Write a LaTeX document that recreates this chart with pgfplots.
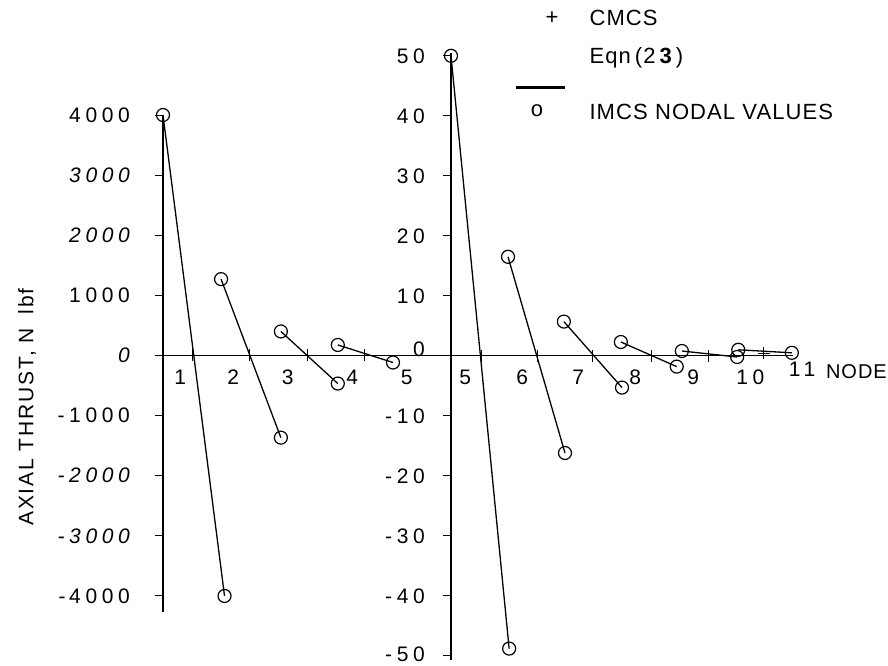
\documentclass[border=0pt]{standalone}
\usepackage{pgfplots}
\pgfplotsset{compat=1.18}
\usepackage{fontspec}
\setmainfont{Liberation Sans}[LetterSpace=5]
\newfontfamily\tickfam{Liberation Sans}[LetterSpace=22]
\newfontfamily\labfam{Liberation Sans}[LetterSpace=9]
\newcommand{\bigf}{\fontsize{22}{26}\selectfont}
\newcommand{\tickf}{\tickfam\fontsize{21}{25}\selectfont}
\pgfplotsset{
  mystyle/.style={
    scale only axis,
    axis y line=left, axis x line=middle,
    every inner x axis line/.append style={-},
    every outer y axis line/.append style={-},
    axis line style={line width=1.1pt, black},
    tick align=outside,
    hide obscured x ticks=false, hide obscured y ticks=false,
    major tick length=8pt,
    ytick style={line width=1pt, black},
    xtick style={draw=none},
    clip=false,
    every tick label/.append style={font=\tickf},
    xticklabel style={yshift=-3pt},
    yticklabel style={inner sep=2pt},
  },
  elem/.style={black, line width=1.3pt, mark=o, mark size=6.5pt,
    mark options={fill=white, line width=1.2pt}},
  cmcs/.style={only marks, mark=+, mark size=6pt, mark options={black, line width=1pt}},
}
\begin{document}
\begin{tikzpicture}[x=1pt,y=1pt]
\useasboundingbox (0,0) rectangle (888,665);

% ---------------- left axis (N) ----------------
\begin{axis}[mystyle,
  at={(163pt,53pt)}, anchor=south west,
  width=287.5pt, height=497pt,
  xmin=1, xmax=6, ymin=-4267, ymax=4000,
  yticklabel style={xshift=-23pt},
  ytick={-4000,-3000,-2000,-1000,0,1000,2000,3000,4000},
  yticklabels={{-\,4000},{\itshape -3000},{\itshape -2000},{-1000},{\itshape 0},{1000},{\itshape 2000},{\itshape 3000},{4000}},
  xtick={1.30,2.22,3.17,4.29,5.24},
  xticklabels={1,2,3,4,5},
]
\draw[line width=1.1pt] (axis cs:0.86,0) -- (axis cs:1,0);
\addplot[elem] coordinates {(1.00,4000) (2.07,-4000)};
\addplot[elem] coordinates {(2.01,1270) (3.05,-1367)};
\addplot[elem] coordinates {(3.05,400) (4.04,-467)};
\addplot[elem] coordinates {(4.04,175) (5.00,-117)};
\addplot[cmcs] coordinates {(1.52,0) (2.50,0) (3.52,0) (4.51,0)};
\end{axis}

% ---------------- right axis (lbf) ----------------
\begin{axis}[mystyle,
  at={(451pt,5pt)}, anchor=south west,
  width=342pt, height=607.2pt,
  xmin=5, xmax=11, ymin=-50.7, ymax=50.5,
  yticklabel style={xshift=-16pt},
  ytick={-50,-40,-30,-20,-10,0,10,20,30,40,50},
  yticklabels={{\raisebox{4pt}{-50}},-40,-30,-20,-10,{\raisebox{14pt}{0}},10,20,30,40,50},
  xtick={5.25,6.25,7.23,8.23,9.25,10.25},
  xticklabels={5,6,7,8,9,10},
]
\addplot[elem] coordinates {(5.00,50) (6.02,-48.8)};
\addplot[elem] coordinates {(6.00,16.5) (7.00,-16.2)};
\addplot[elem] coordinates {(6.98,5.7) (8.00,-5.3)};
\addplot[elem] coordinates {(7.98,2.3) (8.96,-1.8)};
\addplot[elem] coordinates {(9.05,0.8) (10.02,-0.2)};
\addplot[elem] coordinates {(10.04,1.0) (10.98,0.5)};
\addplot[cmcs] coordinates {(5.53,0) (6.51,0) (7.49,0) (8.51,0) (9.51,0) (10.49,0.4)};
\node[anchor=north, font=\tickf, yshift=-3pt] at (axis cs:11.16,0) {11};
\end{axis}
\node[anchor=east, font=\fontsize{20}{24}\selectfont, inner sep=1pt] at (888,293) {NODE};

% ---------------- axis title ----------------
\node[rotate=90, font=\labfam\fontsize{21}{25}\selectfont] at (27,258) {AXIAL THRUST, N\hspace{14pt}lbf};

% ---------------- legend ----------------
\node[font=\bigf] at (552,647) {+};
\node[anchor=west, font=\bigf] at (586,647) {CMCS};
\node[anchor=west, font=\bigf] at (586,607) {Eqn\hspace{4pt}(2\hspace{3pt}\textbf{3}\hspace{3pt})};
\draw[line width=3pt] (516,577) -- (565,577);
\node[font=\bigf] at (537,554) {o};
\node[anchor=west, font=\bigf] at (586,553) {IMCS NODAL VALUES};
\end{tikzpicture}
\end{document}
